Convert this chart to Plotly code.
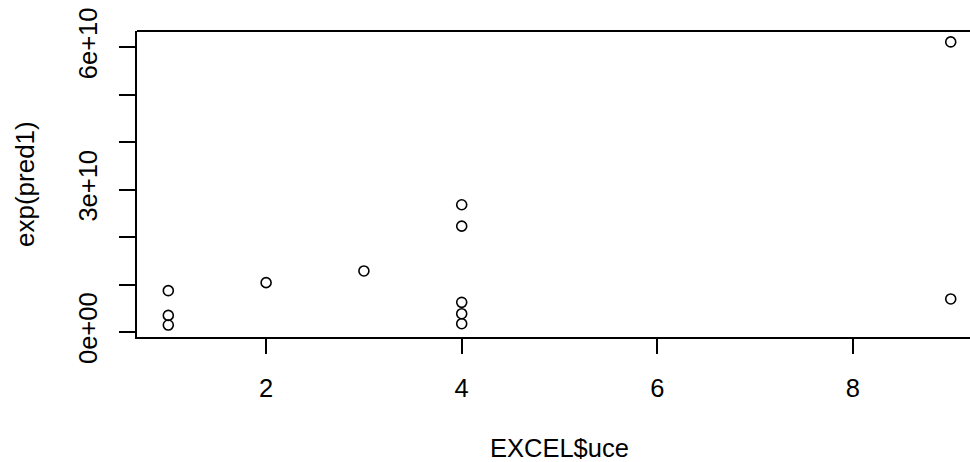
import plotly.graph_objects as go

# data
x_uce = [1, 1, 1, 2, 3, 4, 4, 4, 4, 4, 9, 9]
exp_pred1 = [0.871e10, 0.350e10, 0.147e10, 1.04e10, 1.286e10,
             2.68e10, 2.23e10, 0.625e10, 0.386e10, 0.175e10,
             6.11e10, 0.696e10]

x_ticks = [2, 4, 6, 8]
y_ticks = [0, 1e10, 2e10, 3e10, 4e10, 5e10, 6e10]
y_ticktext = ["0e+00", "", "", "3e+10", "", "", "6e+10"]

FONT = "Liberation Sans, Arial, sans-serif"

fig = go.Figure()
fig.add_trace(go.Scatter(
    x=x_uce, y=exp_pred1, mode="markers",
    marker=dict(symbol="circle-open", size=10, color="black",
                line=dict(width=1.6, color="black")),
    showlegend=False, hoverinfo="skip"))

fig.update_layout(
    width=970, height=462,
    margin=dict(l=137, r=0, t=31, b=125),
    paper_bgcolor="white", plot_bgcolor="white",
    font=dict(family=FONT, size=25, color="black"),
    xaxis=dict(range=[0.68, 9.197], tickvals=x_ticks,
               ticktext=[str(v) for v in x_ticks],
               showgrid=False, zeroline=False,
               showline=True, linecolor="black", linewidth=2,
               ticks="outside", ticklen=15, tickwidth=1.6, tickcolor="black",
               ticklabelstandoff=12,
               tickfont=dict(size=25.5)),
    yaxis=dict(range=[-0.105e10, 6.34e10], tickvals=y_ticks,
               ticktext=y_ticktext,
               showgrid=False, zeroline=False,
               showline=True, linecolor="black", linewidth=2,
               ticks="outside", ticklen=16, tickwidth=1.6, tickcolor="black",
               tickangle=-90, ticklabelstandoff=12,
               tickfont=dict(size=25.5)),
    shapes=[dict(type="line", xref="paper", yref="paper",
                 x0=0, x1=1, y0=1, y1=1,
                 line=dict(color="black", width=2))],
    annotations=[
        dict(text="EXCEL$uce", xref="x", yref="paper", x=5.0, y=-0.362,
             xanchor="center", yanchor="middle", showarrow=False,
             font=dict(size=25.5)),
        dict(text="exp(pred1)", xref="paper", yref="paper", x=-137/833 + 25/833,
             y=0.5, xanchor="center", yanchor="middle", textangle=-90,
             showarrow=False, font=dict(size=26)),
    ],
)

fig.write_html("out.html", config={"displayModeBar": False},
               post_script="document.body.style.margin='0';document.body.style.overflow='hidden';")
